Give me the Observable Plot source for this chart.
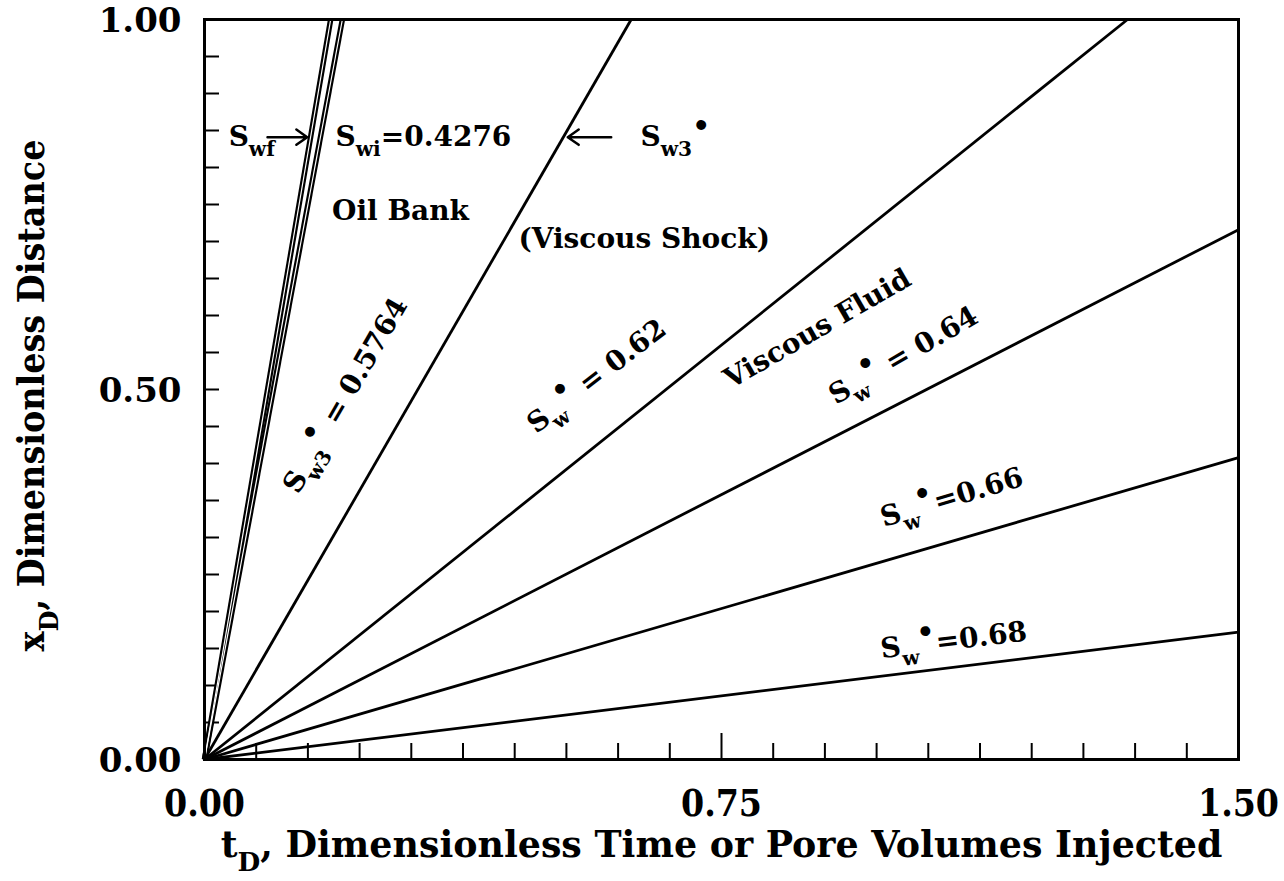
<!DOCTYPE html>
<html><head><meta charset="utf-8">
<script src="https://cdn.jsdelivr.net/npm/d3@7"></script>
<script src="https://cdn.jsdelivr.net/npm/@observablehq/plot@0.6"></script>
<style>html,body{margin:0;padding:0;background:#fff}svg{display:block}</style>
</head><body><div id="chart"></div>
<script>
// Characteristic lines from the origin: end point (tD, xD)
const lineNames   = ["Swf", "Swi", "Sw3*", "Sw*=0.62", "Sw*=0.64", "Sw*=0.66", "Sw*=0.68"];
const lineEndT    = [0.183, 0.200, 0.619, 1.339, 1.5, 1.5, 1.5];
const lineEndX    = [1.0, 1.0, 1.0, 1.0, 0.716, 0.408, 0.172];
const lineDouble  = [true, true, false, false, false, false, false];

// Horizontal labels (left-anchored)
const hLabelText = ["S_{wf}", "S_{wi}=0.4276", "Oil Bank", "S_{w3}^{•}", "(Viscous Shock)"];
const hLabelT    = [0.035, 0.190, 0.185, 0.6325, 0.4555];
const hLabelX    = [0.841, 0.841, 0.741, 0.841, 0.704];

// Rotated labels (centered)
const rLabelText  = ["S_{w3}^{•} = 0.5764", "S_{w}^{•} = 0.62", "Viscous Fluid", "S_{w}^{•} = 0.64", "S_{w}^{•}=0.66", "S_{w}^{•}=0.68"];
const rLabelT     = [0.2045, 0.569, 0.889, 1.014, 1.084, 1.087];
const rLabelX     = [0.492, 0.518, 0.582, 0.546, 0.354, 0.161];
const rLabelAngle = [-60, -37.7, -30, -30, -16.5, -7];

// Arrows (tD1 -> tD2 at xD)
const arrowT1 = [0.0914, 0.590];
const arrowT2 = [0.149, 0.527];
const arrowX  = [0.841, 0.841];

// Axis ticks
const xTickLabels = [0, 0.75, 1.5];
const yTickLabels = [0, 0.5, 1.0];
const xMinorTicks = [0,0.075,0.15,0.225,0.3,0.375,0.45,0.525,0.6,0.675,0.825,0.9,0.975,1.05,1.125,1.2,1.275,1.35,1.425,1.5];
const xMajorTicks = [0.75];
const yMinorTicks = [0,0.05,0.1,0.15,0.2,0.25,0.3,0.35,0.4,0.45,0.5,0.55,0.6,0.65,0.7,0.75,0.8,0.85,0.9,0.95,1.0];

const xTitle = "t_{D}, Dimensionless Time or Pore Volumes Injected";
const yTitle = "x_{D}, Dimensionless Distance";

const lines = lineNames.map((n, i) => ({name: n, t0: 0, x0: 0, t1: lineEndT[i], x1: lineEndX[i], dbl: lineDouble[i]}));
const hLabels = hLabelText.map((s, i) => ({s, t: hLabelT[i], x: hLabelX[i]}));
const rLabels = rLabelText.map((s, i) => ({s, t: rLabelT[i], x: rLabelX[i], a: rLabelAngle[i]}));
const arrows = arrowT1.map((t, i) => ({t1: t, t2: arrowT2[i], x: arrowX[i]}));

const serif = "'DejaVu Serif', serif";
const serifC = "'DejaVu Serif Condensed', 'DejaVu Serif', serif";

const chart = Plot.plot({
  width: 1284,
  height: 881,
  marginLeft: 204,
  marginRight: 46,
  marginTop: 19,
  marginBottom: 122,
  style: {fontFamily: serif, fontWeight: "bold", background: "#fff", color: "#000"},
  x: {domain: [0, 1.5]},
  y: {domain: [0, 1]},
  marks: [
    // ticks inside frame
    Plot.axisX({ticks: xMinorTicks, tickSize: -16, tickFormat: () => "", strokeWidth: 2, label: null}),
    Plot.axisX({ticks: xMajorTicks, tickSize: -26, tickFormat: () => "", strokeWidth: 2, label: null}),
    Plot.axisY({ticks: yMinorTicks, tickSize: -15, tickFormat: () => "", strokeWidth: 2, label: null}),
    // tick labels
    Plot.axisX({ticks: xTickLabels, tickSize: 0, tickPadding: 30, tickFormat: d3.format(".2f"), fontSize: 37, fontFamily: serifC, label: null}),
    Plot.axisY({ticks: yTickLabels, tickSize: 0, tickPadding: 23, tickFormat: d3.format(".2f"), fontSize: 34, label: null, dy: 2}),
    // lines
    Plot.link(lines, {x1: "t0", y1: "x0", x2: "t1", y2: "x1", stroke: "#000", strokeWidth: d => d.dbl ? 5.5 : 2.8, strokeLinecap: "butt"}),
    Plot.link(lines.filter(d => d.dbl), {x1: "t0", y1: "x0", x2: "t1", y2: "x1", stroke: "#fff", strokeWidth: 1.2, strokeLinecap: "butt"}),
    Plot.frame({stroke: "#000", strokeWidth: 3}),
    // arrows
    Plot.arrow(arrows, {x1: "t1", x2: "t2", y1: "x", y2: "x", stroke: "#000", strokeWidth: 2.5, headLength: 8, headAngle: 70}),
    // labels
    Plot.text(hLabels, {x: "t", y: "x", text: "s", textAnchor: "start", fontSize: 28, fill: "#000"}),
    Plot.text(rLabels, {x: "t", y: "x", text: "s", rotate: "a", textAnchor: "middle", fontSize: 28, fill: "#000"}),
    // axis titles
    Plot.text([xTitle], {frameAnchor: "bottom", textAnchor: "middle", lineAnchor: "middle", dy: 86, text: d => d, fontSize: 37, fontFamily: serifC, fill: "#000"}),
    Plot.text([yTitle], {frameAnchor: "left", textAnchor: "middle", lineAnchor: "middle", dx: -172, dy: 6, rotate: -90, text: d => d, fontSize: 37, fontFamily: serifC, fill: "#000"})
  ]
});

// Turn _{..} and ^{..} into sub/superscript tspans
const NS = "http://www.w3.org/2000/svg";
let xTitleEl = null, yTitleEl = null;
d3.select(chart).selectAll("text").each(function() {
  const s = this.textContent;
  if (s === xTitle) xTitleEl = this;
  if (s === yTitle) yTitleEl = this;
  if (!/[_^]\{/.test(s)) return;
  const fs = parseFloat(this.getAttribute("font-size")) || parseFloat(this.parentNode.getAttribute("font-size")) || 28;
  const re = /([_^])\{([^}]*)\}|([^_^]+)/g;
  this.textContent = "";
  let shift = 0, m;
  while ((m = re.exec(s))) {
    const t = document.createElementNS(NS, "tspan");
    let target = 0, size = fs, txt = m[3];
    if (m[1] === "_") { target = fs * 0.36; size = fs * 0.72; txt = m[2]; }
    else if (m[1] === "^") { target = -fs * 0.40; size = fs * 1.0; txt = m[2]; }
    t.setAttribute("dy", (target - shift).toFixed(2));
    t.setAttribute("font-size", size.toFixed(2));
    shift = target;
    t.textContent = txt;
    this.appendChild(t);
  }
});

document.getElementById("chart").appendChild(chart);

// Widen the axis titles to the span of the original lettering
function widen(el, target) {
  if (!el) return;
  const w = el.getBBox().width;
  if (!w) return;
  const k = target / w;
  const tr = el.getAttribute("transform") || "";
  if (tr) {
    el.setAttribute("transform", tr + ` scale(${k.toFixed(4)},1)`);
  } else {
    const x = +el.getAttribute("x") || 0, y = +el.getAttribute("y") || 0;
    el.setAttribute("transform", `translate(${x},${y}) scale(${k.toFixed(4)},1) translate(${-x},${-y})`);
  }
}
widen(xTitleEl, 1002);
widen(yTitleEl, 512);
</script>
</body></html>
